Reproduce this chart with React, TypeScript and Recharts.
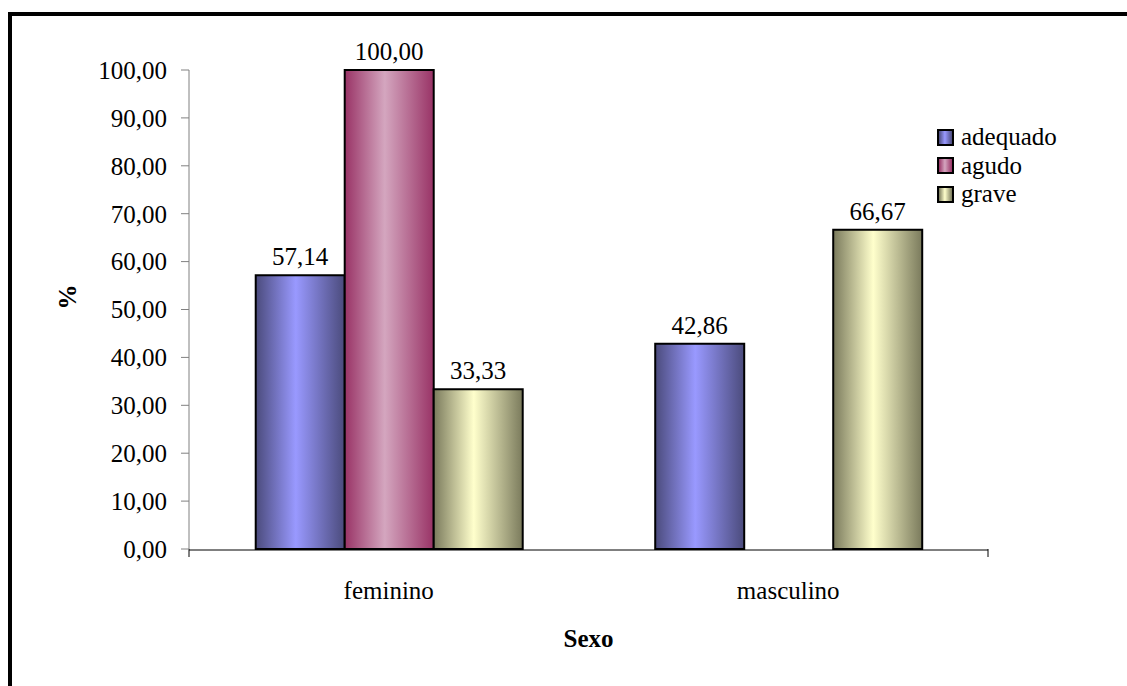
import { BarChart, Bar, XAxis, YAxis, LabelList } from "recharts";

const categories = ["feminino", "masculino"];
const adequado = [57.14, 42.86];
const agudo = [100.0, null];
const grave = [33.33, 66.67];
const yTicks = [0, 10, 20, 30, 40, 50, 60, 70, 80, 90, 100];
const boundaryTicks = [0, 1, 2];

const data = categories.map((sexo, i) => ({
  sexo,
  adequado: adequado[i],
  agudo: agudo[i],
  grave: grave[i],
}));

const series = [
  { key: "adequado", edge: "#4b4b7c", mid: "#9999ff" },
  { key: "agudo", edge: "#993366", mid: "#d4a6bf" },
  { key: "grave", edge: "#7a7a5c", mid: "#ffffcc" },
];

const font = "Liberation Serif, Times New Roman, serif";
const textStyle = { fill: "#000", fontFamily: font, fontSize: 25 };

const fmt = (v: any) => (v == null ? "" : Number(v).toFixed(2).replace(".", ","));

function ChartLegend() {
  return (
    <div style={{ position: "absolute", left: 937, top: 123, fontFamily: font, fontSize: 25, color: "#000" }}>
      {series.map((s) => (
        <div key={s.key} style={{ display: "flex", alignItems: "center", height: 28.5 }}>
          <div
            style={{
              width: 13,
              height: 13,
              border: "2px solid #000",
              marginRight: 7,
              background: `linear-gradient(to right, ${s.edge}, ${s.mid} 45%, ${s.edge})`,
            }}
          />
          <span>{s.key}</span>
        </div>
      ))}
    </div>
  );
}

export default function App() {
  return (
    <div
      style={{
        position: "absolute",
        left: 0,
        top: 0,
        width: 1127,
        height: 686,
        overflow: "hidden",
        background: "#fff",
        fontFamily: font,
      }}
    >
      <div
        style={{
          position: "absolute",
          left: 8,
          top: 12,
          width: 1200,
          height: 800,
          borderTop: "4px solid #000",
          borderLeft: "4px solid #000",
        }}
      />
      <div style={{ position: "absolute", left: 0, top: 0 }}>
        <BarChart
          width={1127}
          height={686}
          data={data}
          margin={{ top: 70, right: 139, left: 89, bottom: 77 }}
          barCategoryGap="16.7%"
          barGap={0}
          style={{ fontFamily: font }}
        >
          <defs>
            {series.map((s) => (
              <linearGradient key={s.key} id={`g-${s.key}`} x1="0" y1="0" x2="1" y2="0">
                <stop offset="0%" stopColor={s.edge} />
                <stop offset="45%" stopColor={s.mid} />
                <stop offset="100%" stopColor={s.edge} />
              </linearGradient>
            ))}
          </defs>
          <XAxis
            xAxisId={0}
            type="number"
            domain={[0, 2]}
            allowDataOverflow
            ticks={boundaryTicks}
            interval={0}
            axisLine={false}
            tickFormatter={() => ""}
            tickLine={{ stroke: "#000", strokeWidth: 1 }}
            tickSize={8}
            height={1}
          />
          <XAxis
            xAxisId="cat"
            dataKey="sexo"
            stroke="#000"
            tickLine={false}
            tickMargin={25}
            height={59}
            tick={{ ...textStyle, style: textStyle }}
            label={{
              value: "Sexo",
              position: "insideBottom",
              offset: -38,
              style: { ...textStyle, fontWeight: "bold" },
            }}
          />
          <YAxis
            domain={[0, 100]}
            ticks={yTicks}
            interval={0}
            width={100}
            stroke="#808080"
            tickSize={8}
            tickMargin={14}
            tickFormatter={fmt}
            tick={{ ...textStyle, style: textStyle }}
            label={{
              value: "%",
              angle: -90,
              position: "insideLeft",
              offset: -22,
              style: { ...textStyle, fontWeight: "bold" },
            }}
          />
          {series.map((s) => (
            <Bar
              key={s.key}
              xAxisId="cat"
              dataKey={s.key}
              fill={`url(#g-${s.key})`}
              stroke="#000"
              strokeWidth={2}
              isAnimationActive={false}
            >
              <LabelList
                dataKey={s.key}
                position="top"
                offset={10}
                formatter={fmt}
                style={textStyle}
              />
            </Bar>
          ))}
        </BarChart>
      </div>
      <ChartLegend />
    </div>
  );
}
